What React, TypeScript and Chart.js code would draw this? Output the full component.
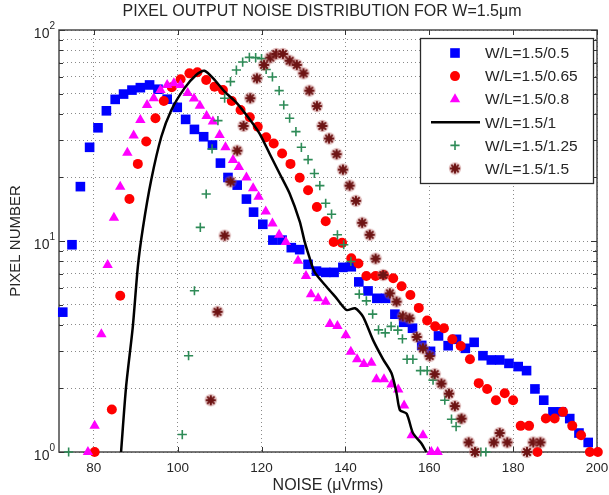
import { useEffect, useRef } from 'react';
import { Chart, registerables } from 'chart.js';
import { drawPoint } from 'chart.js/helpers';

Chart.register(...registerables);

const FONT = '"Liberation Sans", Arial, Helvetica, sans-serif';
const TEXT = '#262626';

const chartTitle = 'PIXEL OUTPUT NOISE DISTRIBUTION FOR W=1.5μm';
const xAxisTitle = 'NOISE (μVrms)';
const yAxisTitle = 'PIXEL NUMBER';

const xTicks = [80, 100, 120, 140, 160, 180, 200];
const yDecades = [1, 10, 100];
const yGridValues = [1, 2, 3, 4, 5, 6, 7, 8, 9, 10, 20, 30, 40, 50, 60, 70, 80, 90, 100];

const seriesLabels = ['W/L=1.5/0.5', 'W/L=1.5/0.65', 'W/L=1.5/0.8', 'W/L=1.5/1', 'W/L=1.5/1.25', 'W/L=1.5/1.5'];

// W/L = 1.5/0.5
const wl05X = [72.6, 74.8, 76.8, 79.0, 81.0, 83.0, 85.1, 87.1, 89.1, 91.1, 93.3, 95.3, 97.5, 99.9, 101.9, 104.0, 106.2, 108.3, 110.2, 112.0, 114.2, 116.4, 118.1, 120.3, 122.7, 124.9, 127.1, 129.1, 131.1, 133.1, 135.3, 137.3, 139.4, 141.4, 143.2, 145.4, 147.5, 149.6, 151.8, 153.9, 156.0, 158.2, 160.3, 162.2, 164.5, 166.5, 168.6, 170.7, 172.8, 174.8, 176.8, 179.0, 181.2, 183.2, 185.2, 187.3, 189.5, 191.5, 193.5, 195.7, 197.9];
const wl05Y = [4.6, 9.6, 18.1, 27.8, 34.4, 41.4, 46.9, 49.7, 51.9, 53.3, 54.9, 52.4, 47.0, 43.0, 37.7, 33.8, 31.2, 28.5, 23.4, 20.0, 18.4, 15.8, 13.7, 12.0, 10.1, 10.1, 9.3, 9.1, 7.75, 7.2, 7.1, 7.1, 7.5, 7.55, 6.4, 5.8, 5.35, 5.35, 4.5, 4.12, 3.86, 3.2, 3.0, 3.55, 3.19, 3.42, 3.1, 3.31, 2.86, 2.73, 2.73, 2.63, 2.54, 2.43, 1.99, 1.76, 1.55, 1.55, 1.44, 1.23, 1.11];

// W/L = 1.5/0.65
const wl065X = [80.2, 84.3, 86.3, 88.5, 90.5, 92.5, 94.7, 96.7, 98.6, 100.7, 102.8, 104.7, 106.8, 108.8, 110.8, 112.9, 115.0, 117.2, 119.1, 121.1, 122.9, 124.9, 126.9, 129.1, 131.1, 133.2, 135.3, 137.2, 139.2, 141.4, 143.1, 145.0, 147.2, 149.2, 151.4, 153.4, 155.5, 157.5, 159.5, 161.4, 163.5, 165.5, 167.5, 169.7, 171.8, 173.8, 175.9, 178.0, 180.0, 181.8, 183.8, 185.8, 187.8, 189.9, 191.9, 194.1, 196.2, 198.3, 200.2];
const wl065Y = [1.0, 1.59, 5.5, 15.8, 23.2, 29.6, 38.2, 46.1, 53.5, 58.4, 62.3, 63.0, 58.0, 53.9, 51.9, 46.1, 41.8, 38.6, 34.8, 31.0, 29.0, 26.0, 23.2, 19.95, 17.4, 14.5, 12.4, 9.9, 9.8, 8.28, 7.83, 6.82, 6.82, 6.9, 6.66, 6.1, 5.55, 4.82, 4.2, 3.94, 3.86, 3.42, 3.18, 2.75, 2.12, 1.99, 1.76, 1.9, 1.76, 1.33, 1.33, 1.0, 1.44, 1.44, 1.55, 1.33, 1.2, 1.0, 1.0];

// W/L = 1.5/0.8
const wl08X = [78.6, 80.2, 81.8, 83.3, 84.8, 86.3, 88.0, 89.5, 91.1, 92.7, 94.3, 95.9, 97.5, 99.1, 100.7, 102.4, 103.9, 105.3, 106.9, 108.4, 110.0, 111.4, 113.2, 114.6, 116.4, 118.0, 119.3, 121.0, 122.6, 124.2, 125.8, 128.7, 130.6, 131.8, 133.5, 135.3, 136.3, 138.1, 140.1, 141.3, 142.8, 144.4, 146.2, 147.4, 149.2, 151.0, 152.6, 154.0, 155.8, 158.5, 160.5, 162.0];
const wl08Y = [1.0, 1.33, 3.61, 7.7, 12.9, 18.1, 26.2, 31.6, 37.4, 44.1, 47.5, 51.9, 54.9, 55.9, 54.9, 50.3, 47.3, 43.8, 39.1, 36.8, 31.8, 27.8, 24.2, 22.4, 20.0, 17.8, 16.2, 13.8, 12.1, 10.7, 9.9, 8.07, 6.82, 5.6, 5.35, 5.16, 4.04, 3.96, 3.58, 2.99, 2.75, 2.61, 2.65, 2.21, 2.21, 2.09, 1.98, 1.66, 1.2, 1.2, 1.0, 1.0];

// W/L = 1.5/1 (smoothed curve)
const wl1X = [86.5, 87.7, 89.3, 90.5, 91.7, 93.7, 96.1, 98.5, 101.6, 104.4, 106.4, 108.8, 111.2, 114.0, 116.8, 119.5, 121.9, 124.3, 126.7, 129.1, 130.3, 131.5, 132.7, 135.5, 137.9, 140.3, 142.3, 144.2, 146.6, 149.0, 151.0, 152.2, 153.0, 154.6, 156.1, 158.1, 159.3];
const wl1Y = [1.0, 2.04, 3.92, 7.55, 11.5, 19.5, 31.2, 41.8, 52.9, 61.2, 64.1, 58.0, 51.0, 45.3, 38.6, 32.4, 26.0, 20.9, 16.8, 12.4, 9.9, 8.28, 7.1, 6.07, 5.35, 4.71, 4.8, 4.38, 3.39, 2.75, 2.36, 1.9, 1.58, 1.52, 1.23, 1.1, 1.0];

// W/L = 1.5/1.25
const wl125X = [74.0, 101.1, 102.6, 104.0, 105.4, 106.8, 108.2, 109.6, 111.2, 112.6, 114.0, 115.5, 117.1, 118.6, 120.0, 121.1, 122.6, 124.2, 125.3, 126.7, 128.2, 129.5, 131.1, 132.6, 133.9, 135.3, 136.7, 138.1, 139.6, 141.3, 143.3, 145.0, 146.5, 147.9, 149.5, 150.9, 152.5, 153.6, 154.7, 156.1, 157.9, 159.5, 160.9, 163.7, 165.3, 166.4, 167.4, 171.1, 172.3, 173.5];
const wl125Y = [1.0, 1.21, 2.86, 5.81, 11.6, 16.7, 27.3, 37.2, 47.5, 56.9, 64.6, 70.5, 74.2, 74.0, 73.2, 65.0, 59.9, 51.6, 44.1, 38.2, 33.0, 27.8, 24.3, 20.9, 18.3, 15.1, 13.4, 10.7, 9.6, 8.0, 5.6, 5.2, 4.5, 3.79, 3.67, 3.94, 3.78, 3.44, 2.75, 2.75, 2.43, 2.43, 2.19, 1.76, 1.43, 1.32, 1.43, 1.0, 1.0, 1.0];

// W/L = 1.5/1.5
const wl15X = [107.9, 109.5, 111.2, 112.6, 114.2, 115.7, 117.3, 118.9, 120.6, 122.1, 123.5, 125.1, 126.7, 128.4, 130.0, 131.4, 133.2, 134.5, 136.1, 137.9, 139.4, 141.0, 142.5, 144.0, 145.8, 147.2, 149.0, 150.6, 152.2, 153.7, 155.3, 157.0, 158.5, 160.1, 161.3, 162.9, 164.7, 166.1, 167.7, 169.4, 170.9, 175.4, 176.8, 178.6, 183.3, 184.8, 186.5];
const wl15Y = [1.76, 4.62, 10.6, 19.1, 26.8, 35.1, 47.5, 59.0, 68.3, 74.0, 77.0, 77.0, 71.5, 68.3, 62.3, 51.6, 43.6, 35.1, 30.6, 25.8, 21.8, 18.3, 15.5, 12.2, 10.7, 8.25, 6.9, 5.65, 5.16, 4.4, 4.3, 3.51, 3.1, 2.85, 2.34, 2.11, 1.89, 1.65, 1.44, 1.11, 1.0, 1.11, 1.23, 1.11, 1.0, 1.11, 1.11];

const seriesX = [wl05X, wl065X, wl08X, wl1X, wl125X, wl15X];
const seriesY = [wl05Y, wl065Y, wl08Y, wl1Y, wl125Y, wl15Y];

type MarkStyle = {
  color: string;
  pointStyle: any;
  radius: number;
  borderWidth: number;
  line?: boolean;
  sprite?: boolean;
};

const markStyles: MarkStyle[] = [
  { color: '#0000ff', pointStyle: 'rect', radius: 6.8, borderWidth: 0 },
  { color: '#ff0000', pointStyle: 'circle', radius: 5, borderWidth: 0 },
  { color: '#ff00ff', pointStyle: 'triangle', radius: 6, borderWidth: 0 },
  { color: '#000000', pointStyle: false, radius: 0, borderWidth: 2.5, line: true },
  { color: '#2e8b57', pointStyle: 'cross', radius: 4.6, borderWidth: 1.6 },
  { color: '#6e1515', pointStyle: 'star', radius: 4.6, borderWidth: 2.2, sprite: true },
];

// asterisk marker with a soft halo, used for the last series
function makeStarSprite(color: string): HTMLCanvasElement {
  const c = document.createElement('canvas');
  c.width = 14;
  c.height = 14;
  const g = c.getContext('2d')!;
  g.fillStyle = 'rgba(185, 105, 105, 0.42)';
  g.beginPath();
  g.arc(7, 7, 6.2, 0, Math.PI * 2);
  g.fill();
  g.strokeStyle = color;
  g.lineWidth = 2;
  g.lineCap = 'round';
  g.beginPath();
  for (let k = 0; k < 4; k++) {
    const ang = (k * Math.PI) / 4;
    const dx = Math.cos(ang) * 4.3;
    const dy = Math.sin(ang) * 4.3;
    g.moveTo(7 - dx, 7 - dy);
    g.lineTo(7 + dx, 7 + dy);
  }
  g.stroke();
  g.fillStyle = color;
  g.beginPath();
  g.arc(7, 7, 2, 0, Math.PI * 2);
  g.fill();
  return c;
}

const decorPlugin = {
  id: 'decor',
  beforeDatasetsDraw(chart: any) {
    const { ctx, chartArea: a, scales } = chart;
    ctx.save();
    // axes box
    ctx.strokeStyle = '#4a4a4a';
    ctx.lineWidth = 1.5;
    ctx.setLineDash([]);
    ctx.strokeRect(a.left, a.top, a.right - a.left, a.bottom - a.top);
    // inward tick marks
    ctx.lineWidth = 1;
    ctx.strokeStyle = '#333';
    ctx.beginPath();
    for (const v of xTicks) {
      const px = Math.round(scales.x.getPixelForValue(v)) + 0.5;
      ctx.moveTo(px, a.bottom);
      ctx.lineTo(px, a.bottom - 5);
      ctx.moveTo(px, a.top);
      ctx.lineTo(px, a.top + 5);
    }
    for (const v of yGridValues) {
      const py = Math.round(scales.y.getPixelForValue(v)) + 0.5;
      const len = yDecades.includes(v) ? 6 : 4;
      ctx.moveTo(a.left, py);
      ctx.lineTo(a.left + len, py);
      ctx.moveTo(a.right, py);
      ctx.lineTo(a.right - len, py);
    }
    ctx.stroke();
    ctx.restore();
  },
  afterDraw(chart: any) {
    const { ctx, chartArea: a, scales } = chart;
    ctx.save();
    ctx.fillStyle = TEXT;

    // title
    ctx.font = `16px ${FONT}`;
    ctx.textAlign = 'center';
    ctx.textBaseline = 'middle';
    ctx.fillText(chartTitle, (a.left + a.right) / 2 - 6, 12);

    // x axis title
    ctx.font = `16px ${FONT}`;
    ctx.fillText(xAxisTitle, (a.left + a.right) / 2, 486);

    // y axis title
    ctx.save();
    ctx.translate(16, (a.top + a.bottom) / 2);
    ctx.rotate(-Math.PI / 2);
    ctx.font = `15px ${FONT}`;
    ctx.fillText(yAxisTitle, 0, 0);
    ctx.restore();

    // y decade labels: 10 with superscript exponent
    for (const v of yDecades) {
      const py = scales.y.getPixelForValue(v);
      const exp = String(Math.round(Math.log10(v)));
      ctx.font = `10px ${FONT}`;
      const wExp = ctx.measureText(exp).width;
      ctx.textAlign = 'right';
      ctx.textBaseline = 'alphabetic';
      ctx.fillText(exp, a.left - 4, py - 1);
      ctx.font = `14px ${FONT}`;
      ctx.fillText('10', a.left - 4 - wExp, py + 8);
    }

    // legend
    const lx0 = 420.5, ly0 = 38.5, lx1 = 593.5, ly1 = 183.5;
    ctx.fillStyle = '#ffffff';
    ctx.fillRect(lx0, ly0, lx1 - lx0, ly1 - ly0);
    ctx.strokeStyle = '#2a2a2a';
    ctx.lineWidth = 1.3;
    ctx.strokeRect(lx0, ly0, lx1 - lx0, ly1 - ly0);
    const metas = chart.data.datasets;
    seriesLabels.forEach((label, i) => {
      const s = markStyles[i];
      const cy = 53 + i * 23.1;
      if (s.line) {
        ctx.strokeStyle = s.color;
        ctx.lineWidth = s.borderWidth;
        ctx.beginPath();
        ctx.moveTo(431, cy);
        ctx.lineTo(480, cy);
        ctx.stroke();
      } else {
        ctx.fillStyle = s.color;
        ctx.strokeStyle = s.color;
        ctx.lineWidth = s.borderWidth;
        const style = metas[i].pointStyle ?? s.pointStyle;
        drawPoint(ctx, { pointStyle: style, rotation: 0, radius: s.radius, borderWidth: s.borderWidth }, 455, cy);
      }
      ctx.fillStyle = TEXT;
      ctx.font = `15.5px ${FONT}`;
      ctx.textAlign = 'left';
      ctx.textBaseline = 'middle';
      ctx.fillText(label, 485, cy + 1);
    });
    ctx.restore();
  },
};

export default function App() {
  const canvasRef = useRef<HTMLCanvasElement>(null);

  useEffect(() => {
    const canvas = canvasRef.current;
    if (!canvas) return;

    const datasets = seriesLabels.map((label, i) => {
      const s = markStyles[i];
      const data = seriesX[i].map((x, k) => ({ x, y: seriesY[i][k] }));
      if (s.line) {
        return {
          label,
          data,
          showLine: true,
          borderColor: s.color,
          borderWidth: s.borderWidth,
          pointRadius: 0,
          tension: 0.25,
          order: seriesLabels.length - i,
          clip: false as any,
        };
      }
      return {
        label,
        data,
        showLine: false,
        pointStyle: s.sprite ? makeStarSprite(s.color) : s.pointStyle,
        pointRadius: s.radius,
        pointBackgroundColor: s.color,
        pointBorderColor: s.color,
        pointBorderWidth: s.borderWidth,
        order: seriesLabels.length - i,
        clip: false as any,
      };
    });

    const chart = new Chart(canvas, {
      type: 'scatter',
      data: { datasets: datasets as any },
      options: {
        animation: false,
        responsive: false,
        devicePixelRatio: 1,
        events: [],
        layout: { padding: { top: 30, right: 12, left: 0, bottom: 0 } },
        plugins: {
          legend: { display: false },
          title: { display: false },
          tooltip: { enabled: false },
        },
        scales: {
          x: {
            type: 'linear',
            min: 71.7,
            max: 200,
            afterBuildTicks: (scale: any) => {
              scale.ticks = xTicks.map((value) => ({ value }));
            },
            afterFit: (scale: any) => {
              scale.height = 43;
              scale.paddingLeft = 0;
              scale.paddingRight = 0;
            },
            grid: { color: '#8a8a8a', lineWidth: 1, drawTicks: false },
            border: { display: false, dash: [1, 3] },
            ticks: {
              color: TEXT,
              font: { family: FONT, size: 13.5 },
              padding: 8,
              maxRotation: 0,
              autoSkip: false,
              callback: (v: any) => String(v),
            },
          },
          y: {
            type: 'logarithmic',
            min: 1,
            max: 100,
            afterBuildTicks: (scale: any) => {
              scale.ticks = yGridValues.map((value) => ({ value, major: yDecades.includes(value) }));
            },
            afterFit: (scale: any) => {
              scale.width = 59;
              scale.paddingTop = 0;
              scale.paddingBottom = 0;
            },
            grid: { color: '#8a8a8a', lineWidth: 1, drawTicks: false },
            border: { display: false, dash: [1, 3] },
            ticks: { display: false },
          },
        },
      },
      plugins: [decorPlugin],
    });

    return () => chart.destroy();
  }, []);

  return (
    <div style={{ position: 'absolute', left: 0, top: 0, width: 609, height: 495, background: '#ffffff' }}>
      <canvas ref={canvasRef} width={609} height={495} style={{ display: 'block' }} />
    </div>
  );
}
